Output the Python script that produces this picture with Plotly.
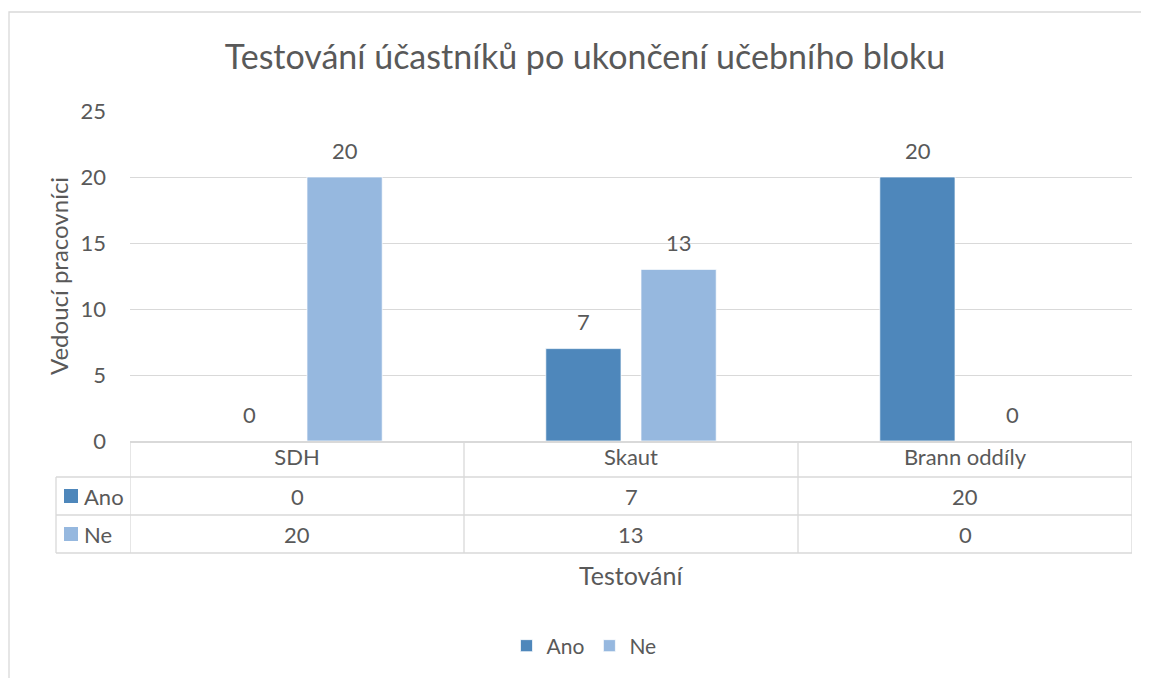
import plotly.graph_objects as go

# ---- data ----
categories = ["SDH", "Skaut", "Brann oddíly"]
series_names = ["Ano", "Ne"]
ano_values = [0, 7, 20]
ne_values = [20, 13, 0]
y_ticks = [0, 5, 10, 15, 20, 25]

title_text = "Testování účastníků po ukončení učebního bloku"
y_title = "Vedoucí pracovníci"
x_title = "Testování"

colors = {"Ano": "#4E87BB", "Ne": "#96B8DF"}
TXT = "#595959"
GRID = "#D9D9D9"
FONT = "Lato"

W, H = 1149, 678
OFF = 8  # page body margin offset
# target screen positions of the plot area
SX0, SX1, SY0, SY1 = 130, 1132, 111, 441
L = SX0 - OFF
T = SY0 - OFF
R = W - (SX1 - OFF)
B = H - (SY1 - OFF)
PW = SX1 - SX0
PH = SY1 - SY0


def px_x(px):
    return (px - SX0) / PW


def px_y(py):
    return (SY1 - py) / PH


series_values = {"Ano": ano_values, "Ne": ne_values}

fig = go.Figure()
for name in series_names:
    fig.add_trace(go.Bar(
        name=name,
        x=categories,
        y=series_values[name],
        marker=dict(color=colors[name], line=dict(color="rgba(255,255,255,0.7)", width=1)),
        hoverinfo="x+y+name",
    ))

annotations = []
# data labels above bars
for si, name in enumerate(series_names):
    shift = -47.5 if si == 0 else 47.5
    for c, v in zip(categories, series_values[name]):
        annotations.append(dict(
            x=c, y=v, xref="x", yref="y", text=str(v), showarrow=False,
            xshift=shift, yshift=27, font=dict(family=FONT, size=22, color=TXT),
            xanchor="center", yanchor="middle",
        ))

# data table values
row_centers = {"Ano": 496, "Ne": 534}
for name in series_names:
    for c, v in zip(categories, series_values[name]):
        annotations.append(dict(
            x=c, y=px_y(row_centers[name]), xref="x", yref="paper", text=str(v),
            showarrow=False, font=dict(family=FONT, size=22, color=TXT),
            xanchor="center", yanchor="middle",
        ))
    annotations.append(dict(
        x=px_x(82), y=px_y(row_centers[name]), xref="paper", yref="paper",
        text=name, showarrow=False, font=dict(family=FONT, size=22, color=TXT),
        xanchor="left", yanchor="middle",
    ))

# axis titles
annotations.append(dict(
    x=px_x(58), y=0.5, xref="paper", yref="paper", text=y_title, textangle=-90,
    showarrow=False, font=dict(family=FONT, size=24, color=TXT),
    xanchor="center", yanchor="middle",
))
annotations.append(dict(
    x=0.5, y=px_y(575), xref="paper", yref="paper", text=x_title,
    showarrow=False, font=dict(family=FONT, size=25, color=TXT),
    xanchor="center", yanchor="middle",
))

shapes = []
line = dict(color=GRID, width=1.3)
# outer chart border
shapes.append(dict(type="rect", xref="paper", yref="paper",
                   x0=px_x(9), x1=px_x(1180), y0=px_y(720), y1=px_y(12),
                   line=dict(color=GRID, width=1.3), layer="below"))
# table horizontal lines
for py in [477, 515, 553]:
    shapes.append(dict(type="line", xref="paper", yref="paper",
                       x0=px_x(56), x1=1, y0=px_y(py), y1=px_y(py), line=line))
# table vertical lines at category boundaries
n = len(categories)
for b in [i - 0.5 for i in range(n + 1)]:
    shapes.append(dict(type="line", xref="x", yref="paper",
                       x0=b, x1=b, y0=px_y(441), y1=px_y(553), line=line))
shapes.append(dict(type="line", xref="paper", yref="paper",
                   x0=px_x(56), x1=px_x(56), y0=px_y(477), y1=px_y(553), line=line))
# legend keys in table
for name in series_names:
    cy = row_centers[name]
    shapes.append(dict(type="rect", xref="paper", yref="paper",
                       x0=px_x(64), x1=px_x(78), y0=px_y(cy + 7), y1=px_y(cy - 7),
                       fillcolor=colors[name], line=dict(width=0)))

fig.update_layout(
    width=W, height=H,
    margin=dict(l=L, r=R, t=T, b=B, autoexpand=False),
    paper_bgcolor="white", plot_bgcolor="white",
    barmode="group", bargap=0.43, bargroupgap=0.21,
    font=dict(family=FONT, size=22, color=TXT),
    title=dict(text=title_text, x=(585 - OFF) / W, xanchor="center", xref="container",
               y=1 - (57 - OFF) / H, yanchor="middle",
               font=dict(family=FONT, size=34, color=TXT)),
    xaxis=dict(
        type="category", range=[-0.5, n - 0.5], showgrid=False, zeroline=False,
        showline=True, linecolor=GRID, linewidth=1.5,
        ticks="", tickfont=dict(family=FONT, size=22, color=TXT),
        ticklabelstandoff=-4,
    ),
    yaxis=dict(
        range=[0, 25], tickvals=y_ticks, showgrid=True, gridcolor=GRID, gridwidth=1.3,
        zeroline=False, showline=False, ticks="",
        tickfont=dict(family=FONT, size=22, color=TXT), ticklabelstandoff=23,
    ),
    legend=dict(orientation="h", x=px_x(584), xanchor="center", y=px_y(646), yanchor="middle",
                font=dict(family=FONT, size=21, color=TXT), itemclick=False,
                itemwidth=30, tracegroupgap=0),
    annotations=annotations,
    shapes=shapes,
)

fig.write_html("out.html")
